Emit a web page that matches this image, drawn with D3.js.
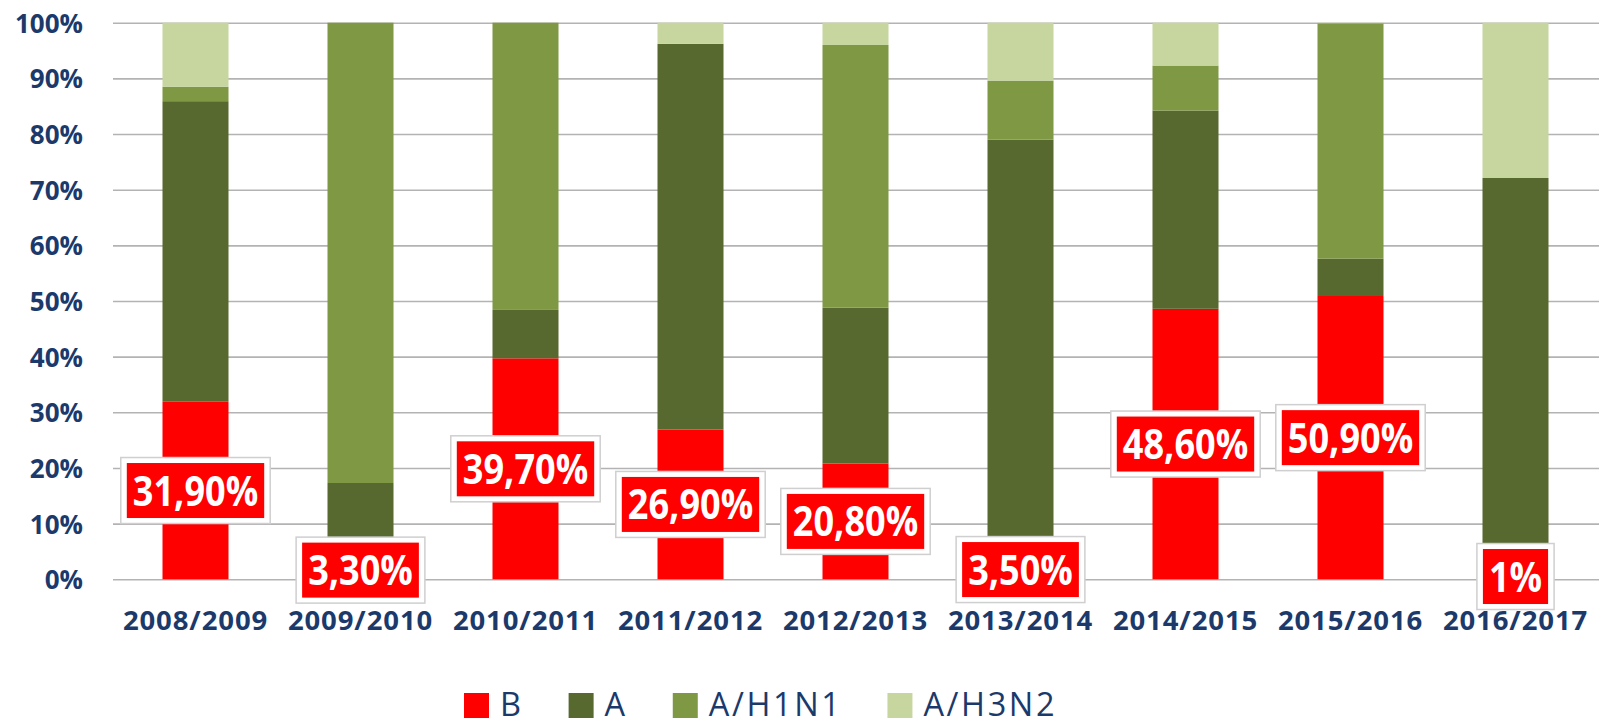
<!DOCTYPE html>
<html>
<head>
<meta charset="utf-8">
<script src="https://cdn.jsdelivr.net/npm/d3@7"></script>
<style>
  html, body { margin: 0; padding: 0; background: #fff; }
  svg { display: block; font-family: 'Open Sans', 'Lato', sans-serif; }
</style>
</head>
<body>
<svg id="chart" width="1599" height="725"></svg>
<script>
const seasons = ["2008/2009","2009/2010","2010/2011","2011/2012","2012/2013","2013/2014","2014/2015","2015/2016","2016/2017"];
const seriesNames = ["B","A","A/H1N1","A/H3N2"];
const valuesB    = [31.9, 3.3, 39.7, 26.9, 20.8, 3.5, 48.6, 50.9, 1.0];
const valuesA    = [54.0, 14.0, 8.7, 69.3, 28.0, 75.5, 35.6, 6.7, 71.1];
const valuesH1N1 = [2.6, 82.7, 51.6, 0, 47.2, 10.6, 8.1, 42.3, 0];
const valuesH3N2 = [11.5, 0, 0, 3.8, 4.0, 10.4, 7.7, 0.1, 27.9];
const labelsB    = ["31,90%","3,30%","39,70%","26,90%","20,80%","3,50%","48,60%","50,90%","1%"];
const yTicks     = [0,10,20,30,40,50,60,70,80,90,100];
const seriesColors = ["#FF0000","#57692F","#7E9843","#C6D69E"];

const rows = seasons.map((s, i) => ({
  season: s, "B": valuesB[i], "A": valuesA[i], "A/H1N1": valuesH1N1[i], "A/H3N2": valuesH3N2[i]
}));

const svg = d3.select("#chart");
const W = 1599;
const plot = { left: 113, right: 1598, top: 22.7, bottom: 579.3 };
const navy = "#1b3a6b";
const FONT = "'Open Sans', sans-serif";

const x = d3.scaleBand().domain(seasons).range([plot.left, plot.right]).paddingInner(0.6).paddingOuter(0.3);
const y = d3.scaleLinear().domain([0, 100]).range([plot.bottom, plot.top]);
const color = d3.scaleOrdinal().domain(seriesNames).range(seriesColors);

// Gridlines + y labels
const yAxis = svg.append("g")
  .attr("transform", `translate(${plot.left},0)`)
  .call(d3.axisLeft(y).tickValues(yTicks).tickFormat(d => d + "%")
        .tickSizeInner(-(W - plot.left)).tickSizeOuter(0).tickPadding(30));
yAxis.select(".domain").remove();
yAxis.selectAll(".tick line").attr("stroke", "#b3b3b3").attr("stroke-width", 1.6);
yAxis.selectAll(".tick text")
  .attr("fill", navy).attr("font-size", 26).attr("font-weight", 700)
  .attr("font-family", FONT).attr("dy", "0.36em");

// Stacked bars
const stack = d3.stack().keys(seriesNames)(rows);
svg.append("g").selectAll("g").data(stack).join("g")
  .attr("fill", d => color(d.key))
  .selectAll("rect").data(d => d.filter(p => p[1] - p[0] > 0)).join("rect")
  .attr("x", d => x(d.data.season))
  .attr("width", x.bandwidth())
  .attr("y", d => y(d[1]))
  .attr("height", d => y(d[0]) - y(d[1]));

// X axis labels
const xAxis = svg.append("g")
  .attr("transform", `translate(0,${plot.bottom})`)
  .call(d3.axisBottom(x).tickSize(0));
xAxis.select(".domain").remove();
xAxis.selectAll(".tick text")
  .attr("fill", navy).attr("font-size", 27.5).attr("font-weight", 700)
  .attr("font-family", FONT).attr("letter-spacing", "0.9px")
  .attr("y", 51).attr("dy", 0);

// Data labels for B
const sxLabel = 0.86;
const lab = svg.append("g").selectAll("g").data(rows).join("g")
  .attr("transform", d => `translate(${x(d.season) + x.bandwidth() / 2},${y(d["B"] / 2)})`);
lab.each(function(d, i) {
  const g = d3.select(this);
  const outer = g.append("rect").attr("fill", "#fff").attr("stroke", "#cfcfcf").attr("stroke-width", 1.5);
  const inner = g.append("rect").attr("fill", "#FF0000");
  const t = g.append("text")
    .attr("text-anchor", "middle").attr("fill", "#fff")
    .attr("font-size", 42).attr("font-weight", 700).attr("font-family", FONT)
    .attr("y", 15).attr("transform", `scale(${sxLabel},1)`)
    .text(labelsB[i]);
  const tw = t.node().getComputedTextLength() * sxLabel;
  const iw = tw + 12, ih = 55;
  inner.attr("x", -iw / 2).attr("y", -ih / 2).attr("width", iw).attr("height", ih);
  const ow = iw + 12, oh = 66;
  outer.attr("x", -ow / 2).attr("y", -oh / 2).attr("width", ow).attr("height", oh);
});

// Legend
const legend = svg.append("g");
let lx = 464;
seriesNames.forEach((name, i) => {
  legend.append("rect").attr("x", lx).attr("y", 693).attr("width", 25).attr("height", 25).attr("fill", color(name));
  const t = legend.append("text").attr("x", lx + 36).attr("y", 716)
    .attr("fill", navy).attr("font-size", 32.5).attr("font-weight", 400)
    .attr("letter-spacing", "2.6px").attr("font-family", FONT).text(name);
  const tw = t.node().getComputedTextLength();
  lx = lx + 36 + tw + 45;
});
</script>
</body>
</html>
